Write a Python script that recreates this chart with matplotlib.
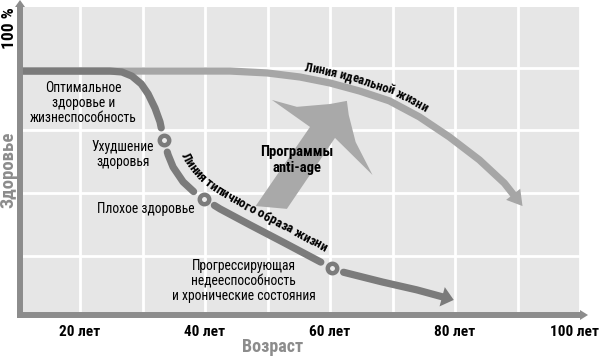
import numpy as np
import matplotlib
matplotlib.use("Agg")
import matplotlib.pyplot as plt
from matplotlib import font_manager
from matplotlib.font_manager import FontProperties
from matplotlib.patches import Polygon
from matplotlib.transforms import ScaledTranslation

# ---------------- data ----------------
age_major = [20, 40, 60, 80, 100]
age_major_labels = ["20 лет", "40 лет", "60 лет", "80 лет", "100 лет"]
age_minor = [30, 50, 70, 90]
health_grid = [20, 40, 60, 80]

ideal_age = [10.4, 44.0, 49.9, 55.2, 60.0, 64.8, 69.5, 74.3, 79.1, 83.9, 87.9, 90.8]
ideal_health = [78.9, 78.9, 78.3, 77.0, 75.1, 72.5, 69.4, 64.3, 57.9, 50.6, 43.2, 35.9]

typical_age = [10.4, 24.8, 26.7, 28.3, 29.8, 30.9, 32.0, 32.8, 33.4, 34.1, 34.9, 36.5,
               38.4, 39.8, 42.4, 47.2, 52.4, 57.9, 60.3, 62.0, 68.4, 73.9, 79.8]
typical_health = [78.9, 78.9, 78.6, 77.3, 74.8, 71.6, 67.1, 62.7, 56.9, 52.2, 48.3, 43.6,
                  40.1, 38.2, 35.0, 29.9, 24.5, 18.7, 16.2, 14.9, 11.7, 9.2, 6.0]

stage_age = [33.4, 39.8, 60.3]
stage_health = [56.9, 38.2, 16.2]

antiage_age = [48.1, 56.8, 50.7, 54.7, 60.0, 62.7, 63.0, 64.1, 66.8, 60.8, 53.1]
antiage_health = [35.9, 61.1, 69.7, 67.5, 68.4, 69.4, 64.9, 56.3, 45.8, 57.6, 35.0]

ideal_label = "Линия идеальной жизни"
typical_label = "Линия типичного образа жизни"
antiage_label = "Программы\nanti-age"
stage_texts = ["Оптимальное\nздоровье и\nжизнеспособность", "Ухудшение\nздоровья",
               "Плохое здоровье", "Прогрессирующая\nнедееспособность\nи хронические состояния"]

# ---------------- fonts ----------------
def pick_font():
    entries = font_manager.fontManager.ttflist
    names = {e.name for e in entries}
    for p in ["Roboto Condensed", "Liberation Sans Narrow", "Open Sans Condensed",
              "Noto Sans Condensed", "DejaVu Sans Condensed", "Arial Narrow"]:
        if p in names:
            return p, "normal"
    for fam in ["Roboto", "Noto Sans", "Open Sans", "Liberation Sans", "DejaVu Sans"]:
        for e in entries:
            if e.name == fam and str(e.stretch) in ("condensed", "semi-condensed", "extra-condensed"):
                return fam, str(e.stretch)
    return "Roboto", "normal"

FAMILY, STRETCH = pick_font()
plt.rcParams["font.family"] = [FAMILY, "DejaVu Sans"]
plt.rcParams["font.stretch"] = STRETCH

BG = "#e6e6e6"
AXIS_C = "#8c8c8c"
IDEAL_C = "#a6a6a6"
TYP_C = "#7b7b7b"
ARROW_C = "#a9a9a9"
LW = 5.2

W, H = 600, 357
fig = plt.figure(figsize=(W / 100, H / 100), dpi=100)
fig.patch.set_facecolor("white")
ax = fig.add_axes([20 / W, 1 - 315 / H, 560 / W, 308 / H])
ax.set_xlim(10.4, 100)
ax.set_ylim(1.2, 99.3)
ax.set_facecolor(BG)
for sp in ax.spines.values():
    sp.set_visible(False)
ax.set_xticks(age_major, age_major_labels)
ax.set_xticks(age_minor, minor=True)
ax.set_yticks(health_grid)
ax.tick_params(axis="both", which="both", length=0)
ax.tick_params(axis="y", labelleft=False)
ax.tick_params(axis="x", pad=7, labelsize=11)
for lab in ax.get_xticklabels():
    lab.set_fontweight("bold")
last = ax.get_xticklabels()[-1]
last.set_transform(last.get_transform() + ScaledTranslation(-5 / 100, 0, fig.dpi_scale_trans))
ax.grid(True, which="both", color="white", lw=2.0)
ax.set_axisbelow(True)

# ---------------- axes arrows ----------------
ax.plot([-3 / 560, 1.0], [0, 0], transform=ax.transAxes, color=AXIS_C, lw=4.3,
        solid_capstyle="butt", clip_on=False, zorder=8)
ax.plot([0, 0], [-3 / 308, 1.0], transform=ax.transAxes, color=AXIS_C, lw=4.3,
        solid_capstyle="butt", clip_on=False, zorder=8)
ax.add_patch(Polygon([(1.0, -5 / 308), (1 + 8 / 560, 0), (1.0, 5 / 308)], closed=True,
                     transform=ax.transAxes, fc=AXIS_C, ec="none", clip_on=False, zorder=8))
ax.add_patch(Polygon([(-5 / 560, 1.0), (0, 1 + 7 / 308), (5 / 560, 1.0)], closed=True,
                     transform=ax.transAxes, fc=AXIS_C, ec="none", clip_on=False, zorder=8))

# ---------------- helpers ----------------
def curve_display(xs, ys):
    pts = ax.transData.transform(np.column_stack([xs, ys]))
    d = np.diff(pts, axis=0)
    s = np.concatenate([[0.0], np.cumsum(np.hypot(d[:, 0], d[:, 1]))])
    return pts, s

def point_at(pts, s, sv):
    return np.array([np.interp(sv, s, pts[:, 0]), np.interp(sv, s, pts[:, 1])])

def sub_curve(pts, s, s0, s1):
    inner = pts[(s > s0) & (s < s1)]
    return np.vstack([point_at(pts, s, s0), inner, point_at(pts, s, s1)])

def to_data(P):
    return ax.transData.inverted().transform(np.atleast_2d(P))

def plot_disp(seg, color, z):
    d = to_data(seg)
    ax.plot(d[:, 0], d[:, 1], color=color, lw=LW, solid_capstyle="round",
            solid_joinstyle="round", zorder=z)

def head(pts, s, head_len, head_half, color, z):
    tip = pts[-1]
    back = point_at(pts, s, s[-1] - head_len)
    dv = (tip - back) / np.hypot(*(tip - back))
    nv = np.array([-dv[1], dv[0]])
    base = tip - head_len * dv
    poly = to_data(np.array([base + head_half * nv, tip, base - head_half * nv]))
    ax.add_patch(Polygon(poly, closed=True, fc=color, ec="none", zorder=z))

# ---------------- big anti-age arrow ----------------
ax.add_patch(Polygon(np.column_stack([antiage_age, antiage_health]), closed=True,
                     fc=ARROW_C, ec="none", zorder=2))

# ---------------- ideal line ----------------
pts_i, s_i = curve_display(ideal_age, ideal_health)
plot_disp(sub_curve(pts_i, s_i, 0, s_i[-1] - 14), IDEAL_C, 3)
head(pts_i, s_i, 15, 9, IDEAL_C, 3)

# ---------------- typical line with gaps at stage markers ----------------
pts_t, s_t = curve_display(typical_age, typical_health)
stage_disp = ax.transData.transform(np.column_stack([stage_age, stage_health]))
s_marks = [s_t[np.argmin(np.hypot(*(pts_t - p).T))] for p in stage_disp]
cut = 12.5
bounds = [0.0]
for sm in s_marks:
    bounds += [sm - cut, sm + cut]
bounds += [s_t[-1] - 11]
for k in range(0, len(bounds), 2):
    plot_disp(sub_curve(pts_t, s_t, bounds[k], bounds[k + 1]), TYP_C, 4)
head(pts_t, s_t, 12, 10, TYP_C, 4)
ax.plot(stage_age, stage_health, "o", ms=6.8, mfc="#ececec", mec=TYP_C, mew=3.2, zorder=5)

# ---------------- text along curves ----------------
renderer = fig.canvas.get_renderer()

def text_on_curve(xs, ys, text, start_age, offset_px, size, window):
    pts, s = curve_display(xs, ys)
    # smoothed, offset guide path (display pixels)
    ss = np.arange(0.0, s[-1], 1.0)
    P = np.array([np.mean([point_at(pts, s, v) for v in np.linspace(t - window, t + window, 9)], axis=0)
                  for t in ss])
    A = np.array([point_at(pts, s, t - window) for t in ss])
    B = np.array([point_at(pts, s, t + window) for t in ss])
    D = B - A
    D = D / np.hypot(D[:, 0], D[:, 1])[:, None]
    N = np.column_stack([-D[:, 1], D[:, 0]])
    Q = P + offset_px * N
    dq = np.diff(Q, axis=0)
    sq = np.concatenate([[0.0], np.cumsum(np.hypot(dq[:, 0], dq[:, 1]))])
    x0 = ax.transData.transform((start_age, 50))[0]
    s_start_curve = np.interp(x0, pts[:, 0], s)
    q_start = np.interp(s_start_curve, ss, sq)
    prop = FontProperties(family=[FAMILY, "DejaVu Sans"], weight="bold", size=size, stretch=STRETCH)
    wid = lambda t: renderer.get_text_width_height_descent(t, prop, ismath=False)[0]
    for i, ch in enumerate(text):
        if ch == " ":
            continue
        wc = wid(ch)
        sc = q_start + wid(text[:i + 1]) - wc / 2
        p = point_at(Q, sq, sc)
        a = point_at(Q, sq, sc - 4)
        b = point_at(Q, sq, sc + 4)
        dv = b - a
        ang = np.degrees(np.arctan2(dv[1], dv[0]))
        q = to_data(p)[0]
        ax.text(q[0], q[1], ch, fontproperties=prop, rotation=ang, rotation_mode="anchor",
                ha="center", va="baseline", color="black", zorder=6)

text_on_curve(ideal_age, ideal_health, ideal_label, 55.6, 7, 9, 7)
text_on_curve(typical_age, typical_health, typical_label, 34.4, 11, 9.6, 22)

# ---------------- labels ----------------
txt_kw = dict(ha="center", va="center", fontsize=9.8, linespacing=1.1, color="black", zorder=6)
ax.text(20.5, 68.7, stage_texts[0], **txt_kw)
ax.text(26.9, 52.2, stage_texts[1], **txt_kw)
ax.text(30.5, 35.0, stage_texts[2], **txt_kw)
ax.text(46.2, 12.0, stage_texts[3], **txt_kw)
ax.text(54.7, 50.6, antiage_label, ha="center", va="center", fontsize=10.5, fontweight="bold",
        linespacing=1.15, zorder=6)

fig.text(8 / W, 1 - 170 / H, "Здоровье", rotation=90, ha="center", va="center",
         color=AXIS_C, fontweight="bold", fontsize=13.5)
fig.text(10 / W, 1 - 28 / H, "100 %", rotation=90, ha="center", va="center",
         color="black", fontweight="bold", fontsize=12.5)
fig.text(273 / W, 1 - 347 / H, "Возраст", ha="center", va="center",
         color=AXIS_C, fontweight="bold", fontsize=13)

fig.savefig("out.png", dpi=100, facecolor="white")
